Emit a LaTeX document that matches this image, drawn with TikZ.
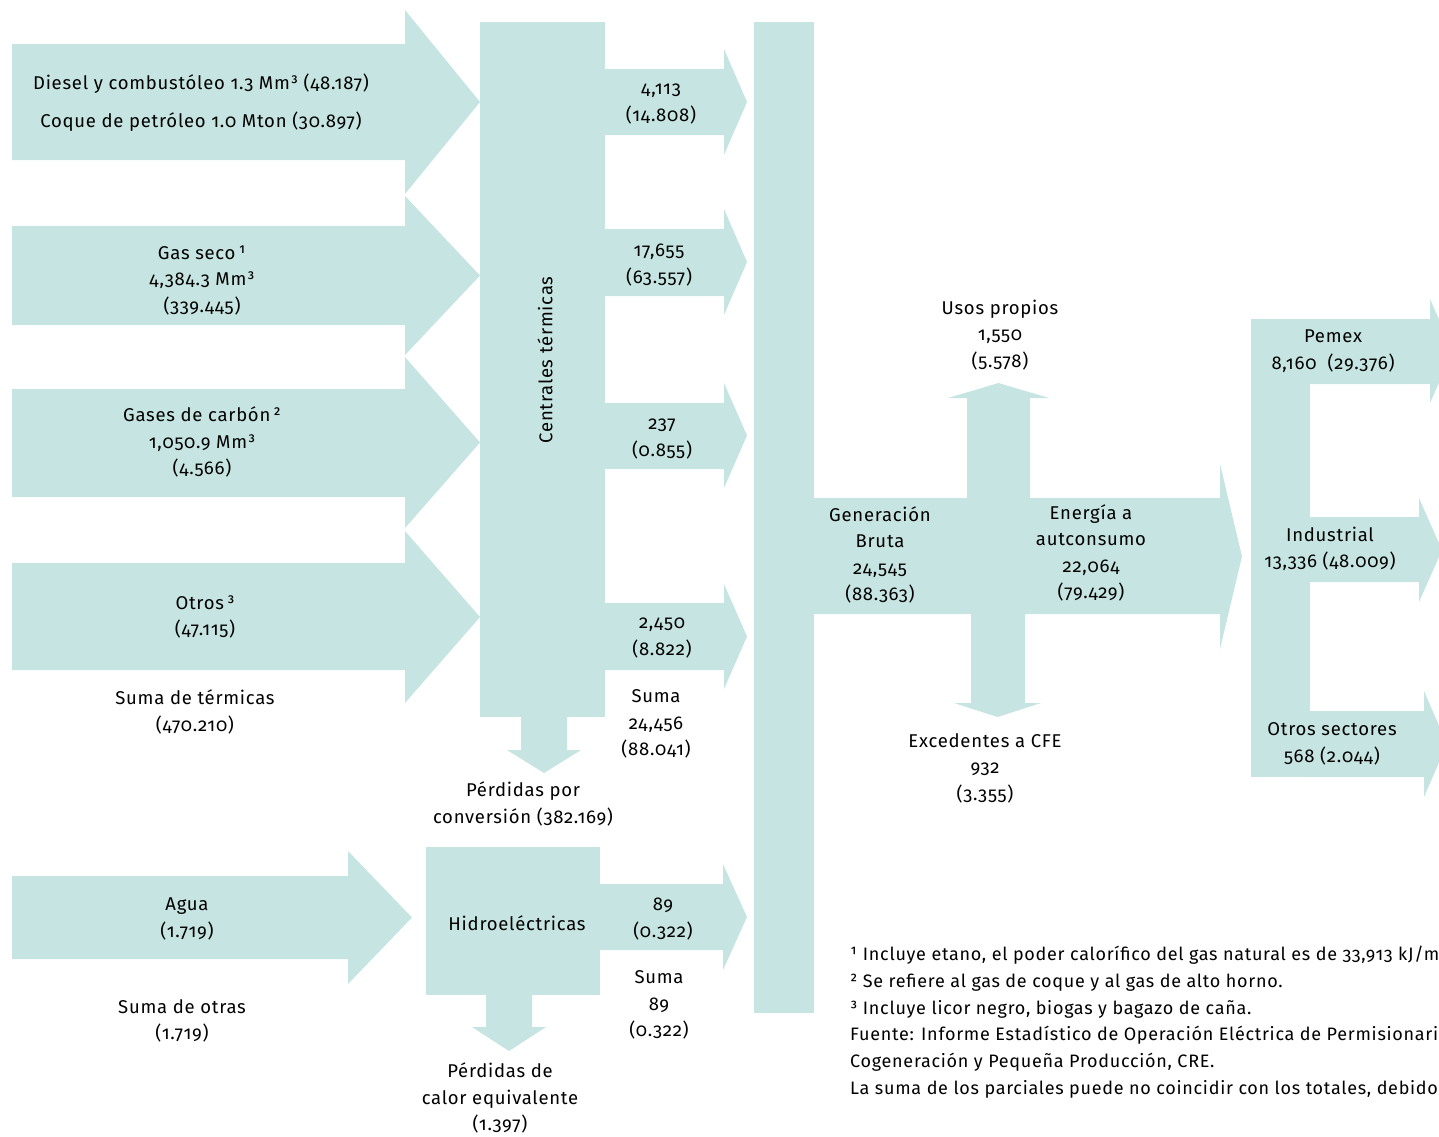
\documentclass[tikz,border=0pt]{standalone}
\usepackage{fontspec}
\setmainfont{Fira Sans}[Numbers=OldStyle, LetterSpace=4]
\definecolor{flowteal}{RGB}{198,229,226}
\tikzset{
  flow/.style={fill=flowteal},
  lbl/.style={align=center, inner sep=0pt, font=\fontsize{18.5}{26.5}\selectfont},
  note/.style={anchor=base west, inner sep=0pt, font=\fontsize{18}{26}\selectfont},
}
% horizontal arrow: x left, x head, x tip, body top, body bottom, head top, head bottom
\newcommand{\harrow}[7]{%
  \fill[flow] (#1,#4) -- (#2,#4) -- (#2,#6) -- (#3,{(#6+#7)/2}) -- (#2,#7)
    -- (#2,#5) -- (#1,#5) -- cycle;}
% vertical arrow: x left, x right, y start, y head, y tip, head left, head right
\newcommand{\varrow}[7]{%
  \fill[flow] (#1,#3) -- (#1,#4) -- (#6,#4) -- ({(#6+#7)/2},#5) -- (#7,#4)
    -- (#2,#4) -- (#2,#3) -- cycle;}
\begin{document}
\begin{tikzpicture}[x=1pt,y=-1pt]
  \useasboundingbox (0,0) rectangle (1439,1136);
  \clip (0,0) rectangle (1439,1136);
  % inputs to thermal plants
  \harrow{12}{405}{480}{44}{160}{10}{194}
  \harrow{12}{405}{480}{226}{325}{196}{355}
  \harrow{12}{405}{480}{389}{497}{357}{528}
  \harrow{12}{405}{480}{563}{670}{531}{703}
  \fill[flow] (480,22) rectangle (605,717);
  \varrow{521}{567}{717}{750}{773}{507}{581}
  % outputs of thermal plants
  \harrow{605}{724}{747}{69}{135}{49}{155}
  \harrow{605}{724}{747}{229}{296}{209}{315}
  \harrow{605}{724}{747}{403}{469}{383}{488}
  \harrow{605}{724}{747}{603}{670}{584}{689}
  % collector bar and gross generation
  \fill[flow] (754,22) rectangle (814,1013);
  \harrow{814}{1220}{1242}{498}{614}{464}{649}
  \varrow{967}{1030}{498}{398}{383}{948}{1049}
  \varrow{971}{1025}{614}{703}{717}{954}{1041}
  % distribution
  \fill[flow] (1251,319) rectangle (1310,777);
  \harrow{1310}{1430}{1453}{319}{384}{299}{403}
  \harrow{1310}{1419}{1442}{517}{582}{498}{602}
  \harrow{1310}{1424}{1447}{711}{777}{691}{797}
  % hydro
  \harrow{12}{348}{412}{876}{959}{851}{984}
  \fill[flow] (426,847) rectangle (600,995);
  \harrow{600}{723}{747}{884}{950}{864}{970}
  \varrow{486}{532}{995}{1027}{1051}{472}{546}

  \node[lbl] (diesel) at (201,84) {Diesel y combustóleo 1.3 Mm³ (48.187)};
  \node[lbl] (coque) at (201,122) {Coque de petróleo 1.0 Mton (30.897)};
  \node[lbl] (gasseco) at (202,280) {Gas seco\,¹\\4,384.3 Mm³\\(339.445)};
  \node[lbl] (gascarbon) at (202,442) {Gases de carbón\,²\\1,050.9 Mm³\\(4.566)};
  \node[lbl] (otros) at (205,617) {Otros\,³\\(47.115)};
  \node[lbl] (sumater) at (195,712) {Suma de térmicas\\(470.210)};
  \node[lbl, rotate=90] (centrales) at (545,360) {Centrales térmicas};
  \node[lbl] (sal1) at (661,104) {4,113\\(14.808)};
  \node[lbl] (sal2) at (659,265) {17,655\\(63.557)};
  \node[lbl] (sal3) at (662,439) {237\\(0.855)};
  \node[lbl] (sal4) at (662,638) {2,450\\(8.822)};
  \node[lbl] (sumacen) at (656,724) {Suma\\24,456\\(88.041)};
  \node[lbl] (perdconv) at (523,804) {Pérdidas por\\conversión (382.169)};
  \node[lbl] (genbruta) at (880,555) {Generación\\Bruta\\24,545\\(88.363)};
  \node[lbl] (autocons) at (1091,553) {Energía a\\autconsumo\\22,064\\(79.429)};
  \node[lbl] (usos) at (1000,335) {Usos propios\\1,550\\(5.578)};
  \node[lbl] (exced) at (985,768) {Excedentes a CFE\\932\\(3.355)};
  \node[lbl] (pemex) at (1333,351) {Pemex\\8,160~~(29.376)};
  \node[lbl] (industrial) at (1330,549) {Industrial\\13,336 (48.009)};
  \node[lbl] (otrossec) at (1332,744) {Otros sectores\\568 (2.044)};
  \node[lbl] (agua) at (187,919) {Agua\\(1.719)};
  \node[lbl] (hidro) at (517,923) {Hidroeléctricas};
  \node[lbl] (sal5) at (663,919) {89\\(0.322)};
  \node[lbl] (sumahid) at (659,1005) {Suma\\89\\(0.322)};
  \node[lbl] (sumaotras) at (182,1021) {Suma de otras\\(1.719)};
  \node[lbl] (perdcalor) at (500,1098) {Pérdidas de\\calor equivalente\\(1.397)};

  \node[note] (nota1) at (850,960) {¹ Incluye etano, el poder calorífico del gas natural es de 33,913 kJ/m³};
  \node[note] (nota2) at (850,987) {² Se refiere al gas de coque y al gas de alto horno.};
  \node[note] (nota3) at (850,1014) {³ Incluye licor negro, biogas y bagazo de caña.};
  \node[note] (fuente) at (850,1040) {Fuente: Informe Estadístico de Operación Eléctrica de Permisionarios};
  \node[note] (fuente2) at (850,1067) {Cogeneración y Pequeña Producción, CRE.};
  \node[note] (redondeo) at (850,1094) {La suma de los parciales puede no coincidir con los totales, debido};
\end{tikzpicture}
\end{document}
